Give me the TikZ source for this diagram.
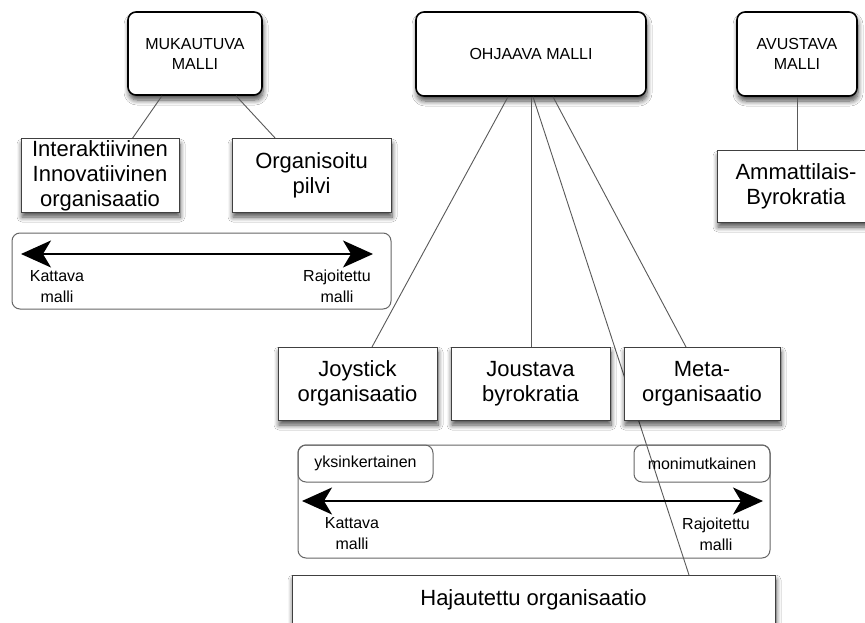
\documentclass[tikz,border=0pt]{standalone}
\usepackage{fontspec}
\setmainfont{Liberation Sans}
\usetikzlibrary{arrows.meta,shadows.blur}
\newcommand\fsmall{\fontsize{16}{20}\selectfont}
\newcommand\flabel{\fontsize{16}{21}\selectfont}
\newcommand\fbig{\fontsize{22}{25}\selectfont}
\begin{document}
\begin{tikzpicture}[x=1pt,y=-1pt,
  shad/.style={blur shadow={shadow xshift=1pt,shadow yshift=-5pt,shadow blur steps=8,shadow blur radius=5pt,shadow opacity=70}},
  topbox/.style={draw=black,line width=1.6pt,rounded corners=8pt,fill=white,shad,align=center,font=\fsmall,inner sep=0pt},
  midbox/.style={draw=black!75,line width=1pt,fill=white,shad,align=center,font=\fbig,inner sep=0pt,minimum width=158pt,minimum height=73pt},
  rangebox/.style={draw=black!60,line width=1pt,rounded corners=8pt,inner sep=0pt},
  tagbox/.style={draw=black!60,line width=1pt,rounded corners=8pt,inner sep=0pt,font=\fsmall,minimum height=37pt},
  lbl/.style={align=center,font=\flabel,inner sep=0pt},
  conn/.style={draw=black!65,line width=0.9pt},
  bigarrow/.style={draw=black,line width=1.5pt,{Stealth[length=30pt,width=27pt,inset=8pt]}-{Stealth[length=30pt,width=27pt,inset=8pt]}}
]
\clip (0,0) rectangle (865,623);
\fill[white] (0,0) rectangle (865,623);

% top boxes
\node[topbox,minimum width=134pt,minimum height=83pt] (muk) at (195,53.5) {MUKAUTUVA\\MALLI};
\node[topbox,minimum width=230pt,minimum height=84pt] (ohj) at (531,54) {OHJAAVA MALLI};
\node[topbox,minimum width=120pt,minimum height=84pt] (avu) at (797,54) {AVUSTAVA\\MALLI};

% coordinates for the lower boxes
\path (100,175.5) coordinate (cinter)
      (311.5,175.5) coordinate (corg)
      (796,186.5) coordinate (camm)
      (357.5,383.5) coordinate (cjoy)
      (530.5,383.5) coordinate (cjou)
      (702,383.5) coordinate (cmeta)
      (533.5,600) coordinate (chaj);

% connectors (drawn under the boxes)
\draw[conn] ([xshift=-33pt]muk.south) -- ([xshift=32pt]cinter |- 0,139) coordinate (tinter);
\draw[conn] ([xshift=41pt]muk.south) -- ([xshift=-35.5pt]corg |- 0,139) coordinate (torg);
\draw[conn] (avu.south) -- (avu.south |- 0,151) coordinate (tamm);
\draw[conn] ([xshift=-23pt]ohj.south) -- ([xshift=14.5pt]cjoy |- 0,347) coordinate (tjoy);
\draw[conn] (ohj.south) -- (ohj.south |- 0,347) coordinate (tjou);
\draw[conn] ([xshift=2pt]ohj.south) -- ([xshift=155.5pt]chaj |- 0,575) coordinate (thaj);
\draw[conn] ([xshift=22pt]ohj.south) -- ([xshift=-16pt]cmeta |- 0,347) coordinate (tmeta);

% middle boxes
\node[midbox,minimum width=158pt] (inter) at (cinter) {Interaktiivinen\\Innovatiivinen\\organisaatio};
\node[midbox,minimum width=159pt] (org) at (corg) {Organisoitu\\pilvi};
\node[midbox,minimum height=71pt] (amm) at (camm) {Ammattilais-\\Byrokratia};
\node[midbox,minimum width=159pt] (joy) at (cjoy) {Joystick\\organisaatio};
\node[midbox,minimum width=159pt] (jou) at (cjou) {Joustava\\byrokratia};
\node[midbox,minimum width=156pt] (meta) at (cmeta) {Meta-\\organisaatio};
\node[midbox,minimum width=483pt,minimum height=50pt] (haj) at (chaj) {Hajautettu organisaatio};

% first scale
\node[rangebox,minimum width=379pt,minimum height=76pt] (rng1) at (201.5,271) {};
\coordinate (a1l) at (21,254);
\coordinate (a1r) at (373,254);
\draw[bigarrow] (a1l) -- (a1r);
\node[lbl] (k1) at (57,286.5) {Kattava\\malli};
\node[lbl] (r1) at (337,286.5) {Rajoitettu\\malli};

% second scale
\node[rangebox,minimum width=472pt,minimum height=113pt] (rng2) at (534,501.5) {};
\node[tagbox,minimum width=135pt] (yks) at (365.5,463.5) {yksinkertainen};
\node[tagbox,minimum width=136pt] (moni) at (702,463.5) {monimutkainen};
\coordinate (a2l) at (302,501);
\coordinate (a2r) at (763,501);
\draw[bigarrow] (a2l) -- (a2r);
\node[lbl] (k2) at (352,534) {Kattava\\malli};
\node[lbl] (r2) at (716,534) {Rajoitettu\\malli};
\end{tikzpicture}
\end{document}
